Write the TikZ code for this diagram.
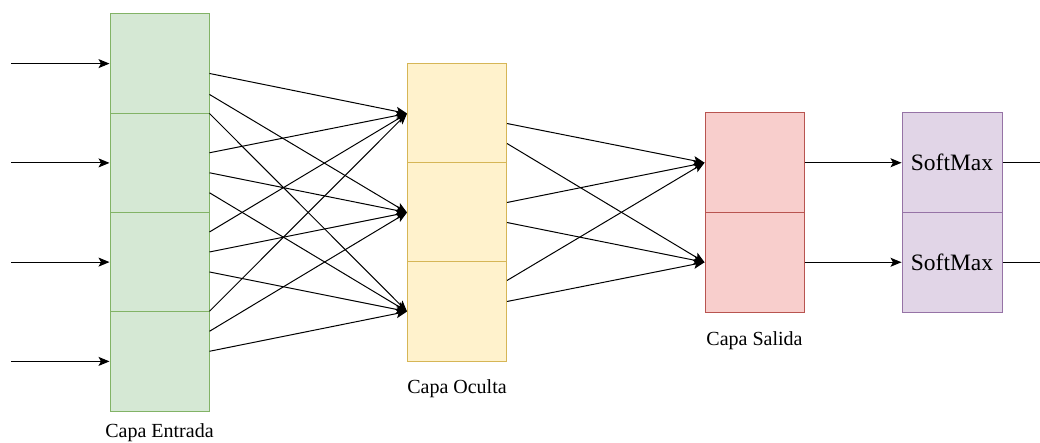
\documentclass[tikz,border=0pt]{standalone}
\usepackage{fontspec}
\setmainfont{Liberation Serif}
\usetikzlibrary{arrows.meta,calc}
\definecolor{gfill}{HTML}{D5E8D4}\definecolor{gline}{HTML}{82B366}
\definecolor{yfill}{HTML}{FFF2CC}\definecolor{yline}{HTML}{D6B656}
\definecolor{rfill}{HTML}{F8CECC}\definecolor{rline}{HTML}{B85450}
\definecolor{pfill}{HTML}{E1D5E7}\definecolor{pline}{HTML}{9673A6}
\begin{document}
\begin{tikzpicture}[x=1pt,y=-1pt,
  cell/.style={draw,line width=1pt,inner sep=0pt,minimum width=99pt,minimum height=99.25pt,anchor=center},
  incell/.style={cell,fill=gfill,draw=gline},
  hidcell/.style={cell,fill=yfill,draw=yline,minimum height=99pt},
  outcell/.style={cell,fill=rfill,draw=rline,minimum height=99.5pt},
  smcell/.style={cell,fill=pfill,draw=pline,minimum height=99.5pt,minimum width=100pt,font=\fontsize{23.5}{28}\selectfont},
  lbl/.style={anchor=base,inner sep=0pt,font=\fontsize{20}{24}\selectfont},
  conn/.style={line width=1pt,-{Stealth[length=11pt,width=9pt,inset=2.5pt]}},
  plain/.style={line width=1pt}]
\useasboundingbox (0,0) rectangle (1040,443);
% input layer
\node[incell] (in1) at (159.5,63.6) {};
\node[incell] (in2) at (159.5,162.9) {};
\node[incell] (in3) at (159.5,262.1) {};
\node[incell] (in4) at (159.5,361.4) {};
% hidden layer
\node[hidcell] (h1) at (457,113.5) {};
\node[hidcell] (h2) at (457,212.5) {};
\node[hidcell] (h3) at (457,311.5) {};
% output layer
\node[outcell] (o1) at (754.5,162.75) {};
\node[outcell] (o2) at (754.5,262.25) {};
% softmax
\node[smcell] (s1) at (952,162.75) {SoftMax};
\node[smcell] (s2) at (952,262.25) {SoftMax};
% labels
\node[lbl] (l1) at (159.5,437) {Capa Entrada};
\node[lbl] (l2) at (457,393) {Capa Oculta};
\node[lbl] (l3) at (754.5,345) {Capa Salida};
% input arrows
\foreach \i/\y in {1/63.6,2/162.9,3/262.1,4/361.4}{
  \coordinate (x\i) at (11,\y);
  \draw[conn] (x\i) -- (in\i.west);
}
% input -> hidden
\draw[conn] ($(in1.north east)+(0,60)$) -- (h1.west);
\draw[conn] ($(in1.north east)+(0,81)$) -- (h2.west);
\draw[conn] ($(in1.north east)+(0,100)$) -- (h3.west);
\draw[conn] ($(in2.north east)+(0,40)$) -- (h1.west);
\draw[conn] ($(in2.north east)+(0,60)$) -- (h2.west);
\draw[conn] ($(in2.north east)+(0,80)$) -- (h3.west);
\draw[conn] ($(in3.north east)+(0,20)$) -- (h1.west);
\draw[conn] ($(in3.north east)+(0,40)$) -- (h2.west);
\draw[conn] ($(in3.north east)+(0,60)$) -- (h3.west);
\draw[conn] ($(in4.north east)+(0,0)$) -- (h1.west);
\draw[conn] ($(in4.north east)+(0,20)$) -- (h2.west);
\draw[conn] ($(in4.north east)+(0,40)$) -- (h3.west);
% hidden -> output
\draw[conn] ($(h1.north east)+(0,60)$) -- (o1.west);
\draw[conn] ($(h1.north east)+(0,80)$) -- (o2.west);
\draw[conn] ($(h2.north east)+(0,40)$) -- (o1.west);
\draw[conn] ($(h2.north east)+(0,60)$) -- (o2.west);
\draw[conn] ($(h3.north east)+(0,19)$) -- (o1.west);
\draw[conn] ($(h3.north east)+(0,40)$) -- (o2.west);
% output -> softmax
\draw[conn] (o1.east) -- (s1.west);
\draw[conn] (o2.east) -- (s2.west);
% softmax outputs
\coordinate (e1) at (1040,162.75);
\coordinate (e2) at (1040,262.25);
\draw[plain] (s1.east) -- (e1);
\draw[plain] (s2.east) -- (e2);
\end{tikzpicture}
\end{document}
